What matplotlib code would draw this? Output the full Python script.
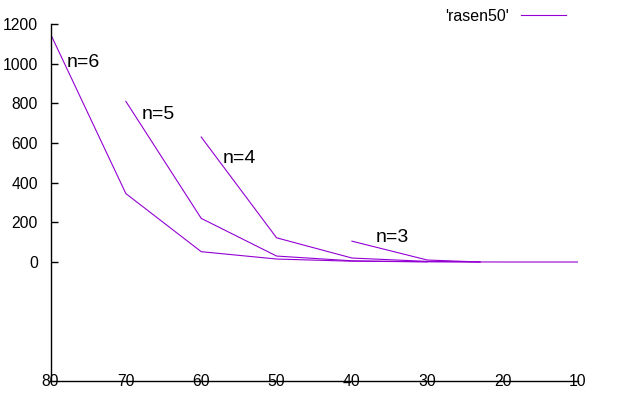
import matplotlib
matplotlib.use('Agg')
import matplotlib.pyplot as plt

plt.rcParams['font.family'] = ['Liberation Sans', 'DejaVu Sans']

# rasen50 series, one segment per n
x_n6 = [80, 70, 60, 50, 40, 30, 20, 10]
y_n6 = [1150, 345, 52, 15, 4, 1, 0, 0]
x_n5 = [70, 60, 50, 40, 30]
y_n5 = [810, 220, 30, 6, 1]
x_n4 = [60, 50, 40, 30, 23]
y_n4 = [630, 122, 20, 3, 0]
x_n3 = [40, 30, 23]
y_n3 = [105, 10, 0]

labels = ['n=6', 'n=5', 'n=4', 'n=3']
label_x = [75.7, 65.7, 55.0, 34.6]
label_y = [1008, 745, 524, 126]

x_ticks = [80, 70, 60, 50, 40, 30, 20, 10]
y_ticks = [0, 200, 400, 600, 800, 1000, 1200]

color = '#9400d3'

fig = plt.figure(figsize=(6.19, 3.97), dpi=100)
ax = fig.add_axes([50.5 / 619, 16 / 397, (578 - 50.5) / 619, (381 - 24) / 397])

ax.plot(x_n6, y_n6, color=color, lw=0.8, label="'rasen50'")
ax.plot(x_n5, y_n5, color=color, lw=0.8)
ax.plot(x_n4, y_n4, color=color, lw=0.8)
ax.plot(x_n3, y_n3, color=color, lw=0.8)

for t, tx, ty in zip(labels, label_x, label_y):
    ax.text(tx, ty, t, fontsize=14, ha='center', va='center')

ax.set_xlim(80, 10)
ax.set_ylim(-600, 1200)
ax.set_xticks(x_ticks)
ax.set_yticks(y_ticks)

ax.spines['top'].set_visible(False)
ax.spines['right'].set_visible(False)
ax.spines['left'].set_linewidth(1.0)
ax.spines['bottom'].set_linewidth(1.0)

ax.tick_params(axis='x', length=0, pad=0, labelsize=11.3)
for lab in ax.get_xticklabels():
    lab.set_va('center')
ax.tick_params(axis='y', direction='in', length=5, width=1.0, pad=9, labelsize=11.3)

ax.legend(loc='upper right', bbox_to_anchor=(566 / 619, (397 - 9) / 397),
          bbox_transform=fig.transFigure, frameon=False, markerfirst=False,
          fontsize=11.5, handlelength=2.8, handletextpad=0.8,
          borderpad=0, borderaxespad=0)

fig.savefig('out.png', dpi=100)
